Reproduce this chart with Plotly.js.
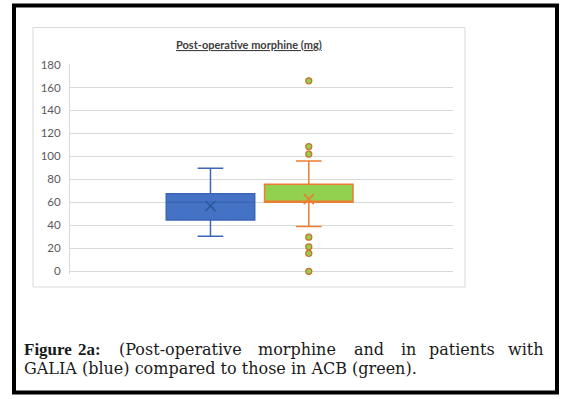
<!DOCTYPE html>
<html>
<head>
<meta charset="utf-8">
<script src="https://cdn.plot.ly/plotly-3.0.1.min.js"></script>
<style>
  html, body { margin: 0; padding: 0; background: #ffffff; }
  #chart { width: 576px; height: 399px; }
</style>
</head>
<body>
<div id="chart"></div>
<script>
// ---- Data ----
const groups = ["GALIA", "ACB"];
const q1Values = [44.6, 60];
const medianValues = [60, 60];
const q3Values = [67.5, 75.8];
const lowerWhiskers = [30.5, 38.9];
const upperWhiskers = [89.6, 96];
const meanValues = [56.8, 62.8];
const acbOutliers = [165.8, 108.6, 102, 29.7, 21.3, 15.6, 0];
const yTickValues = [0, 20, 40, 60, 80, 100, 120, 140, 160, 180];
const yTickLabels = ["0", "20", "40", "60", "80", "100", "120", "140", "160", "180"];
const chartTitle = "Post-operative morphine (mg)";
const captionLine1 = ["Figure", "2a:", "(Post-operative", "morphine", "and", "in", "patients", "with"];
const captionLine2 = "GALIA (blue) compared to those in ACB (green).";

// ---- Styling ----
const W = 576, H = 399;
const px = v => v / W;
const py = v => (H - v) / H;
const fillColors = ["#4472C4", "#92D050"];
const lineColors = ["#3A66B8", "#ED7D31"];
const meanColors = ["#2F5597", "#ED7D31"];
const tickFont = { family: "Lato, 'Open Sans', sans-serif", size: 11.5, color: "#595959" };

const traces = groups.map((g, i) => ({
  type: "box",
  name: g,
  x: [g],
  q1: [q1Values[i]],
  median: [medianValues[i]],
  q3: [q3Values[i]],
  lowerfence: [lowerWhiskers[i]],
  upperfence: [upperWhiskers[i]],
  width: 0.9,
  whiskerwidth: 0.29,
  fillcolor: fillColors[i],
  line: { color: lineColors[i], width: 1.5 },
  boxpoints: false,
  hoverinfo: "skip",
  showlegend: false
}));

traces.push({
  type: "scatter",
  mode: "markers",
  x: groups,
  y: meanValues,
  cliponaxis: false,
  marker: {
    symbol: "x-thin",
    size: 10,
    color: meanColors,
    line: { color: meanColors, width: 1.5 }
  },
  hoverinfo: "skip",
  showlegend: false
});

traces.push({
  type: "scatter",
  mode: "markers",
  x: acbOutliers.map(() => groups[1]),
  y: acbOutliers,
  cliponaxis: false,
  marker: {
    symbol: "circle",
    size: 6,
    color: "#92D050",
    line: { color: "#C8742C", width: 1.3 }
  },
  hoverinfo: "skip",
  showlegend: false
});

// caption word anchor positions (justified first line)
const line1Anchors = [22, 89, 180, 297, 368.5, 408.5, 461.5, 546];
const captionFont = { family: "'DejaVu Serif', serif", size: 16, color: "#1a1a1a" };
const boldFont = { family: "'Liberation Serif', serif", size: 17, color: "#1a1a1a" };
const annotations = [];
annotations.push({
  xref: "paper", yref: "paper",
  x: px(249), y: py(44),
  xanchor: "center", yanchor: "middle",
  text: "<b><u>" + chartTitle + "</u></b>",
  showarrow: false,
  font: { family: "Lato, 'Open Sans', sans-serif", size: 11, color: "#404040" }
});
captionLine1.forEach((w, i) => {
  const first = i === 0;
  const last = i === captionLine1.length - 1;
  annotations.push({
    xref: "paper", yref: "paper",
    x: px(line1Anchors[i]),
    y: py(349),
    xanchor: first ? "left" : (last ? "right" : "center"), yanchor: "middle",
    text: i < 2 ? "<b>" + w + "</b>" : w,
    showarrow: false,
    font: i < 2 ? boldFont : captionFont
  });
});
annotations.push({
  xref: "paper", yref: "paper",
  x: px(22), y: py(368),
  xanchor: "left", yanchor: "middle",
  text: captionLine2,
  showarrow: false,
  font: captionFont
});

const yMin = -2, yMax = 180.6;
const pxPerUnit = (271.3 - 64.5) / 180;

const layout = {
  width: W, height: H,
  margin: { l: 0, r: 0, t: 0, b: 0 },
  paper_bgcolor: "#ffffff",
  plot_bgcolor: "#ffffff",
  showlegend: false,
  xaxis: {
    type: "category",
    categoryorder: "array",
    categoryarray: groups,
    range: [-1.429, 2.467],
    domain: [px(70), px(453)],
    showticklabels: false,
    showgrid: false,
    zeroline: false,
    showline: false,
    ticks: "",
    fixedrange: true
  },
  yaxis: {
    range: [yMin, yMax],
    domain: [py(271.3 - yMin * pxPerUnit), py(64.5 - (yMax - 180) * pxPerUnit)],
    tickmode: "array",
    tickvals: yTickValues,
    ticktext: yTickLabels,
    ticks: "",
    tickfont: tickFont,
    showgrid: true,
    gridcolor: "#D9D9D9",
    gridwidth: 1,
    zeroline: true,
    zerolinecolor: "#D9D9D9",
    zerolinewidth: 1,
    showline: true,
    linecolor: "#D9D9D9",
    linewidth: 1,
    ticklabelstandoff: 6,
    fixedrange: true
  },
  shapes: [
    {
      type: "rect", xref: "paper", yref: "paper",
      x0: px(33), x1: px(465), y0: py(287), y1: py(27.5),
      line: { color: "#D9D9D9", width: 1 }, fillcolor: "rgba(0,0,0,0)", layer: "below"
    },
    {
      type: "rect", xref: "paper", yref: "paper",
      x0: px(14), x1: px(557), y0: py(392.5), y1: py(5.5),
      line: { color: "#000000", width: 4 }, fillcolor: "rgba(0,0,0,0)"
    }
  ],
  annotations: annotations
};

Plotly.newPlot("chart", traces, layout, { staticPlot: true, displayModeBar: false });
</script>
</body>
</html>
